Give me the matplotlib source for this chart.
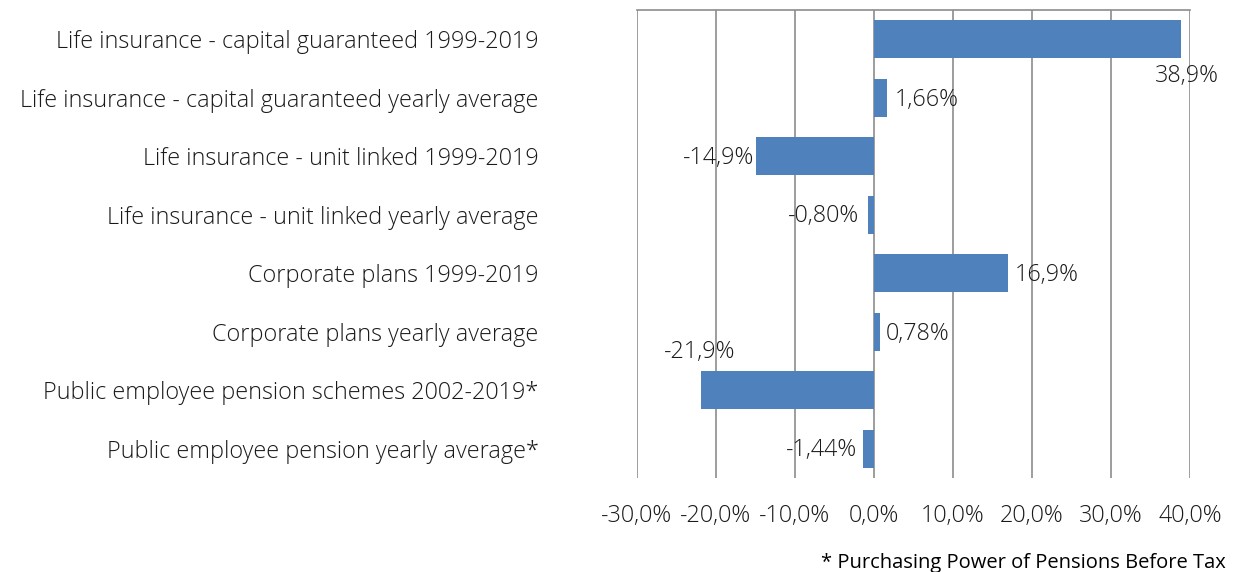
import matplotlib
matplotlib.use("Agg")
import matplotlib.pyplot as plt
from matplotlib.ticker import FixedLocator

categories = [
    "Life insurance - capital guaranteed 1999-2019",
    "Life insurance - capital guaranteed yearly average",
    "Life insurance - unit linked 1999-2019",
    "Life insurance - unit linked yearly average",
    "Corporate plans 1999-2019",
    "Corporate plans yearly average",
    "Public employee pension schemes 2002-2019*",
    "Public employee pension yearly average*",
]
values = [38.9, 1.66, -14.9, -0.80, 16.9, 0.78, -21.9, -1.44]
decimals = [1, 2, 1, 2, 1, 2, 1, 2]
xticks = [-30, -20, -10, 0, 10, 20, 30, 40]
footnote = "* Purchasing Power of Pensions Before Tax"

# label offsets in pixels (dx, dy) and alignment
label_style = [
    ((6, -37), "center"),
    ((8, -2), "left"),
    ((-2, -2), "right"),
    ((-8, -1), "right"),
    ((7, -2), "left"),
    ((6, -2), "left"),
    ((-1, 38), "center"),
    ((-5, -1), "right"),
]

plt.rcParams['font.family'] = ['Open Sans', 'DejaVu Sans']
FS = 16.8
TC = '#1a1a1a'

fig = plt.figure(figsize=(12.34, 5.72), dpi=100)
ax = fig.add_axes([637/1234, 1-478/572, (1190-637)/1234, (478-10)/572])

y = list(range(len(categories)))
ax.barh(y, values, height=0.65, color="#4F81BD", zorder=3)
ax.set_ylim(len(categories)-0.5, -0.5)
ax.set_xlim(-30, 40)
ax.xaxis.set_major_locator(FixedLocator(xticks))
ax.set_xticklabels([f"{t:.1f}%".replace('.', ',') for t in xticks], fontsize=FS, fontweight='light', color=TC)
ax.set_yticks(y)
ax.set_yticklabels(categories, fontsize=FS, fontweight='light', color=TC)
ax.tick_params(axis='y', length=0, pad=71)
ax.tick_params(axis='x', length=0, pad=19)
ax.grid(axis='x', color='#8c8c8c', linewidth=1.2, zorder=0)
for s in ['left', 'right', 'bottom']:
    ax.spines[s].set_visible(False)
ax.spines['top'].set_color('#8c8c8c')
ax.spines['top'].set_linewidth(1.2)

for i, v in enumerate(values):
    (dx, dy), ha = label_style[i]
    txt = f"{v:.{decimals[i]}f}%".replace('.', ',')
    ax.annotate(txt, xy=(v, i), xytext=(dx, dy), textcoords='offset pixels',
                ha=ha, va='center', fontsize=FS, fontweight='light', color=TC, zorder=4)

fig.text(1226/1234, 1-563/572, footnote, ha='right', va='center', fontsize=14.5,
         fontweight='medium', color='#000000')

fig.savefig("out.png", dpi=100)
